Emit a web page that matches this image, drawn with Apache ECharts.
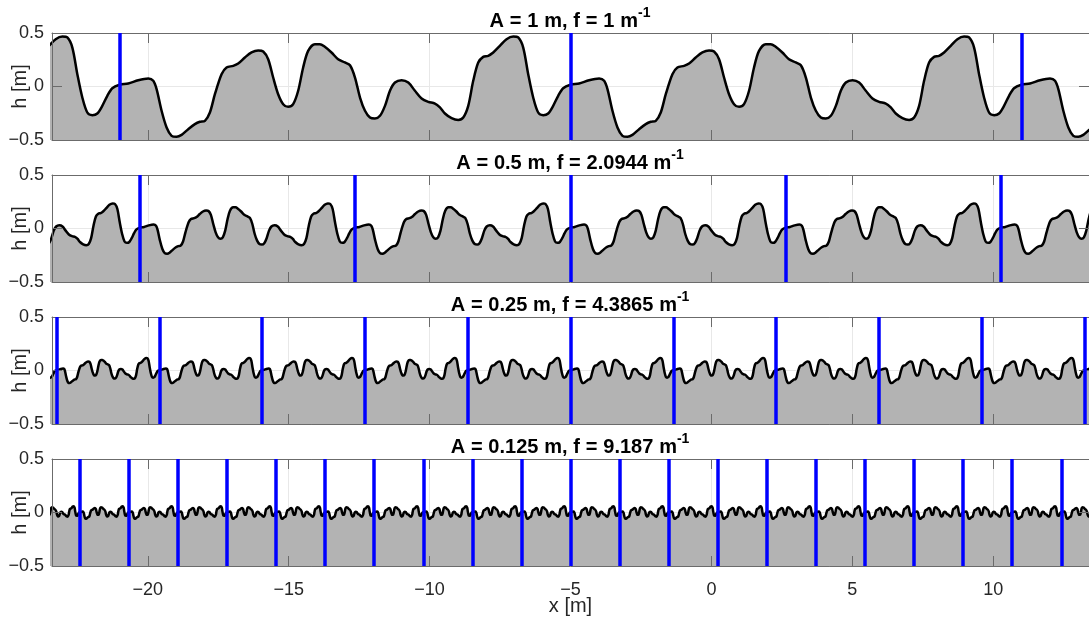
<!DOCTYPE html>
<html><head><meta charset="utf-8">
<script src="https://cdn.jsdelivr.net/npm/echarts@6/dist/echarts.min.js"></script>
<style>html,body{margin:0;padding:0;background:#fff}#c{width:1089px;height:622px}</style>
</head><body><div id="c"></div>
<script>
// One 16 m period of the A = 1 m profile (phase 0 = blue marker).
const profilePhase = [0, 0.307, 0.662, 1.017, 1.194, 1.312, 1.489, 1.667, 1.844, 2.021, 2.199, 2.435, 2.671, 2.849, 3.026, 3.203, 3.381, 3.617, 3.794, 4.031, 4.208, 4.444, 4.681, 4.917, 5.095, 5.272, 5.449, 5.626, 5.804, 5.981, 6.158, 6.336, 6.513, 6.690, 6.927, 7.104, 7.281, 7.518, 7.754, 7.991, 8.175, 8.352, 8.530, 8.707, 8.884, 9.061, 9.239, 9.416, 9.593, 9.771, 10.007, 10.243, 10.480, 10.716, 10.953, 11.189, 11.366, 11.544, 11.780, 12.017, 12.194, 12.371, 12.548, 12.726, 12.903, 13.080, 13.258, 13.494, 13.730, 13.967, 14.144, 14.322, 14.499, 14.676, 14.853, 15.031, 15.208, 15.385, 15.563, 15.740];
const profileHeight = [0.016, 0.028, 0.059, 0.075, 0.053, -0.025, -0.227, -0.383, -0.461, -0.470, -0.452, -0.399, -0.352, -0.330, -0.321, -0.243, -0.072, 0.115, 0.178, 0.193, 0.215, 0.271, 0.318, 0.336, 0.327, 0.255, 0.084, -0.072, -0.165, -0.190, -0.165, -0.040, 0.178, 0.333, 0.396, 0.396, 0.371, 0.318, 0.255, 0.225, 0.198, 0.084, -0.103, -0.227, -0.290, -0.299, -0.274, -0.181, -0.040, 0.037, 0.059, 0.037, -0.040, -0.112, -0.143, -0.159, -0.196, -0.252, -0.296, -0.312, -0.290, -0.181, 0.053, 0.224, 0.277, 0.287, 0.318, 0.380, 0.442, 0.467, 0.458, 0.364, 0.115, -0.103, -0.243, -0.268, -0.252, -0.181, -0.087, -0.016];
const amplitudes = [1, 0.5, 0.25, 0.125];
const frequencies = [1, 2.0944, 4.3865, 9.187];
const ampLabels = ['1', '0.5', '0.25', '0.125'];
const freqLabels = ['1', '2.0944', '4.3865', '9.187'];
const basePeriod = 16;
const markerOrigin = -5;
const xRange = [-23.4, 13.4];
const yRange = [-0.5, 0.5];

const FONT = '"Liberation Sans", Arial, Helvetica, sans-serif';
const TXT = '#262626';
const AX = '#6b6b6b';
const GRIDC = '#e8e8e8';
const minus = v => (v < 0 ? '\u2212' + String(-v) : String(v));

const grids = [], xAxes = [], yAxes = [], series = [], titles = [];
for (let k = 0; k < 4; k++) {
  const top = 33 + 142 * k;
  grids.push({left: 52, right: 0, top: top, height: 107, containLabel: false, outerBoundsMode: 'none'});
  const P = basePeriod / frequencies[k];
  const data = [];
  const nMin = Math.floor((xRange[0] - markerOrigin) / P) - 1;
  const nMax = Math.ceil((xRange[1] - markerOrigin) / P);
  for (let n = nMin; n <= nMax; n++) {
    for (let i = 0; i < profilePhase.length; i++) {
      const x = markerOrigin + (n * basePeriod + profilePhase[i]) / frequencies[k];
      if (x >= xRange[0] - P * 0.3 && x <= xRange[1] + P * 0.3) data.push([x, amplitudes[k] * profileHeight[i]]);
    }
  }
  const markers = [];
  for (let n = -40; n <= 40; n++) {
    const x = markerOrigin + n * P;
    if (x >= xRange[0] && x <= xRange[1]) markers.push({xAxis: x});
  }
  const xBase = {type: 'value', gridIndex: k, min: xRange[0], max: xRange[1], splitNumber: 8};
  const isBottom = k === 3;
  xAxes.push(Object.assign({}, xBase, {
    z: 0, axisLine: {show: false}, axisTick: {show: false}, axisLabel: {show: false},
    splitLine: {show: true, lineStyle: {color: GRIDC, width: 1}}
  }));
  xAxes.push(Object.assign({}, xBase, {
    position: 'bottom', z: 3,
    axisLine: {show: true, onZero: false, lineStyle: {color: AX, width: 1}},
    axisTick: {show: true, inside: true, length: 10, lineStyle: {color: AX, width: 1}},
    axisLabel: {show: isBottom, showMinLabel: false, showMaxLabel: false, margin: 15, fontSize: 18, color: TXT, fontFamily: FONT,
      formatter: v => (Math.abs(v / 5 - Math.round(v / 5)) < 1e-6 ? minus(v) : '')},
    splitLine: {show: false},
    name: isBottom ? 'x [m]' : '', nameLocation: 'middle', nameGap: 30, nameMoveOverlap: false,
    nameTextStyle: {fontSize: 20, color: TXT, fontFamily: FONT}
  }));
  xAxes.push(Object.assign({}, xBase, {
    position: 'top', z: 3,
    axisLine: {show: true, onZero: false, lineStyle: {color: AX, width: 1}},
    axisTick: {show: true, inside: true, length: 10, lineStyle: {color: AX, width: 1}},
    axisLabel: {show: false}, splitLine: {show: false}
  }));
  const yBase = {type: 'value', gridIndex: k, min: yRange[0], max: yRange[1], interval: 0.5};
  yAxes.push(Object.assign({}, yBase, {
    z: 0, axisLine: {show: false}, axisTick: {show: false}, axisLabel: {show: false},
    splitLine: {show: true, lineStyle: {color: GRIDC, width: 1}}
  }));
  yAxes.push(Object.assign({}, yBase, {
    position: 'left', z: 3,
    axisLine: {show: true, onZero: false, lineStyle: {color: AX, width: 1}},
    axisTick: {show: true, inside: true, length: 10, lineStyle: {color: AX, width: 1}},
    axisLabel: {show: true, margin: 8, fontSize: 18, color: TXT, fontFamily: FONT, formatter: v => minus(v)},
    splitLine: {show: false},
    name: 'h [m]', nameLocation: 'middle', nameGap: 22, nameMoveOverlap: false,
    nameTextStyle: {fontSize: 20, color: TXT, fontFamily: FONT}
  }));
  yAxes.push(Object.assign({}, yBase, {
    position: 'right', z: 3,
    axisLine: {show: true, onZero: false, lineStyle: {color: AX, width: 1}},
    axisTick: {show: true, inside: true, length: 10, lineStyle: {color: AX, width: 1}},
    axisLabel: {show: false}, splitLine: {show: false}
  }));
  series.push({
    type: 'line', xAxisIndex: 3 * k + 1, yAxisIndex: 3 * k + 1, data: data,
    symbol: 'none', showSymbol: false, smooth: 0.3, silent: true, z: 2,
    lineStyle: {color: '#000', width: 2.5},
    areaStyle: {color: '#b3b3b3', opacity: 1, origin: 'start'},
    markLine: {silent: true, symbol: ['none', 'none'], label: {show: false}, animation: false,
      lineStyle: {color: '#0000ff', width: 3.5, type: 'solid'}, emphasis: {disabled: true}, data: markers}
  });
  const words = ('A = ' + ampLabels[k] + ' m, f = ' + freqLabels[k] + ' m').split(' ');
  const txt = words.map(w => '{b|' + w + '}').join('{sp| }') + '{s|-1}';
  titles.push({
    text: txt, left: 570, top: 6 + 142 * k, textAlign: 'center', padding: 0,
    textStyle: {rich: {
      b: {fontSize: 20, fontWeight: 'bold', color: '#000', fontFamily: FONT, lineHeight: 30, verticalAlign: 'middle'},
      sp: {fontSize: 20, fontFamily: FONT, width: 5.8, lineHeight: 30},
      s: {fontSize: 14, fontWeight: 'bold', color: '#000', fontFamily: FONT, verticalAlign: 'top'}
    }}
  });
}

const chart = echarts.init(document.getElementById('c'), null, {renderer: 'canvas'});
chart.setOption({
  animation: false, backgroundColor: '#fff',
  title: titles, grid: grids, xAxis: xAxes, yAxis: yAxes, series: series
});
</script></body></html>
